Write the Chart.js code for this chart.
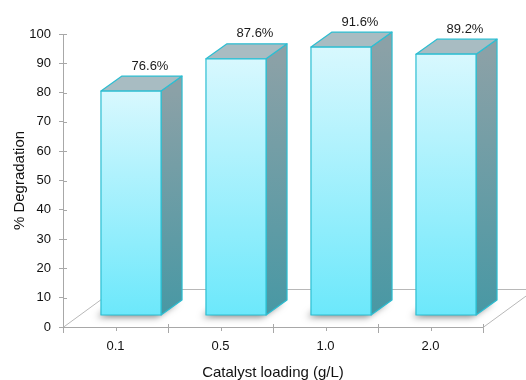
<!DOCTYPE html>
<html>
<head>
<meta charset="utf-8">
<script src="https://cdn.jsdelivr.net/npm/chart.js@4.4.1/dist/chart.umd.min.js"></script>
<style>
  html, body { margin: 0; padding: 0; background: #fff; }
</style>
</head>
<body>
<canvas id="chart" width="526" height="380"></canvas>
<script>
// ---- data ----
const categories = ['0.1', '0.5', '1.0', '2.0'];
const degradation = [76.6, 87.6, 91.6, 89.2];
const yMin = 0;
const yMax = 100;
const yStep = 10;

const FONT = '"Liberation Sans", Arial, sans-serif';

// 3D depth of the floor and of each bar (pixels)
const FLOOR_DX = 52, FLOOR_DY = 38;
const BAR_DX = 21, BAR_DY = 15;

const axisGrey = '#a8a8a8';

/* ---------------------------------------------------------------------------
    3D BARS PLUGIN
--------------------------------------------------------------------------- */
const bars3d = {
  id: 'bars3d',
  beforeDatasetsDraw(chart) {
    const { ctx, chartArea: a, scales: { x, y } } = chart;
    ctx.save();
    ctx.strokeStyle = '#b8b8b8';
    ctx.lineWidth = 1;

    // floor outline
    const b = Math.round(a.bottom) + 0.5;
    ctx.beginPath();
    ctx.moveTo(a.left, b);
    ctx.lineTo(a.left + FLOOR_DX, b - FLOOR_DY);
    ctx.lineTo(a.right + FLOOR_DX, b - FLOOR_DY);
    ctx.lineTo(a.right, b);
    ctx.stroke();

    // inner tick stubs
    ctx.strokeStyle = axisGrey;
    ctx.beginPath();
    y.ticks.forEach(t => {
      const py = Math.round(y.getPixelForValue(t.value)) + 0.5;
      ctx.moveTo(a.left, py);
      ctx.lineTo(a.left + 4, py);
    });
    categories.forEach((c, i) => {
      const edge = Math.round(x.getPixelForValue(i) + (x.getPixelForValue(1) - x.getPixelForValue(0)) / 2) + 0.5;
      ctx.moveTo(edge, a.bottom - 3);
      ctx.lineTo(edge, a.bottom);
      const mid = Math.round(x.getPixelForValue(i)) + 0.5;
      ctx.moveTo(mid, a.bottom);
      ctx.lineTo(mid, a.bottom + 4);
    });
    ctx.stroke();
    ctx.restore();
  },
  afterDatasetsDraw(chart) {
    const { ctx } = chart;
    const meta = chart.getDatasetMeta(0);
    const offX = FLOOR_DX / 2 - BAR_DX / 2;
    const offY = FLOOR_DY / 2 - BAR_DY / 2;

    meta.data.forEach((bar, i) => {
      const w = bar.width;
      const x0 = bar.x - w / 2 + offX;
      const x1 = bar.x + w / 2 + offX;
      const yt = bar.y - offY;
      const yb = bar.base - offY;

      ctx.save();
      // soft shadow on the floor
      ctx.shadowColor = 'rgba(0,0,0,0.5)';
      ctx.shadowBlur = 7;
      ctx.shadowOffsetX = -4;
      ctx.shadowOffsetY = 2;
      ctx.fillStyle = '#888';
      ctx.beginPath();
      ctx.moveTo(x0, yb);
      ctx.lineTo(x1, yb);
      ctx.lineTo(x1 + BAR_DX, yb - BAR_DY);
      ctx.lineTo(x0 + BAR_DX, yb - BAR_DY);
      ctx.closePath();
      ctx.fill();
      ctx.restore();

      ctx.save();
      ctx.strokeStyle = '#2cbed2';
      ctx.lineWidth = 1.2;
      ctx.lineJoin = 'round';

      // side face
      const side = ctx.createLinearGradient(0, yt, 0, yb);
      side.addColorStop(0, '#8ba1a7');
      side.addColorStop(1, '#4898a4');
      ctx.fillStyle = side;
      ctx.beginPath();
      ctx.moveTo(x1, yt);
      ctx.lineTo(x1 + BAR_DX, yt - BAR_DY);
      ctx.lineTo(x1 + BAR_DX, yb - BAR_DY);
      ctx.lineTo(x1, yb);
      ctx.closePath();
      ctx.fill();
      ctx.stroke();

      // top face
      ctx.fillStyle = '#a8bcc2';
      ctx.beginPath();
      ctx.moveTo(x0, yt);
      ctx.lineTo(x0 + BAR_DX, yt - BAR_DY);
      ctx.lineTo(x1 + BAR_DX, yt - BAR_DY);
      ctx.lineTo(x1, yt);
      ctx.closePath();
      ctx.fill();
      ctx.stroke();

      // front face
      const front = ctx.createLinearGradient(0, yt, 0, yb);
      front.addColorStop(0, '#d8f8fe');
      front.addColorStop(1, '#6ce8fb');
      ctx.fillStyle = front;
      ctx.fillRect(x0, yt, x1 - x0, yb - yt);
      ctx.strokeRect(x0, yt, x1 - x0, yb - yt);

      // value label
      ctx.fillStyle = '#1a1a1a';
      ctx.font = '13px ' + FONT;
      ctx.textAlign = 'center';
      ctx.textBaseline = 'middle';
      ctx.fillText(degradation[i].toFixed(1) + '%', (x0 + x1) / 2 + BAR_DX - 2, yt - BAR_DY - 10);
      ctx.restore();
    });
  }
};

const tickFont = { family: FONT, size: 13 };
const titleFont = { family: FONT, size: 15, lineHeight: 1 };

new Chart(document.getElementById('chart'), {
  type: 'bar',
  data: {
    labels: categories,
    datasets: [{
      data: degradation,
      backgroundColor: 'rgba(0,0,0,0)',
      borderWidth: 0,
      categoryPercentage: 1,
      barPercentage: 0.572
    }]
  },
  options: {
    responsive: false,
    animation: false,
    devicePixelRatio: 1,
    layout: { padding: { top: 34, right: 43, left: 0, bottom: 0 } },
    plugins: { legend: { display: false }, tooltip: { enabled: false } },
    scales: {
      x: {
        grid: { drawOnChartArea: false, tickLength: 6, color: axisGrey, offset: true },
        border: { color: axisGrey },
        ticks: { padding: 6, color: '#111', font: tickFont },
        title: { display: true, text: 'Catalyst loading (g/L)', color: '#111', font: titleFont, padding: { top: 0, bottom: 0 } },
        afterFit: s => { s.height = 53; }
      },
      y: {
        min: yMin,
        max: yMax,
        grid: { drawOnChartArea: false, tickLength: 4, color: axisGrey },
        border: { color: axisGrey },
        ticks: { stepSize: yStep, padding: 8, color: '#111', font: tickFont },
        title: { display: true, text: '% Degradation', color: '#111', font: titleFont, padding: { top: 12.5, bottom: 0 } },
        afterFit: s => { s.width = 63; }
      }
    }
  },
  plugins: [bars3d]
});
</script>
</body>
</html>
